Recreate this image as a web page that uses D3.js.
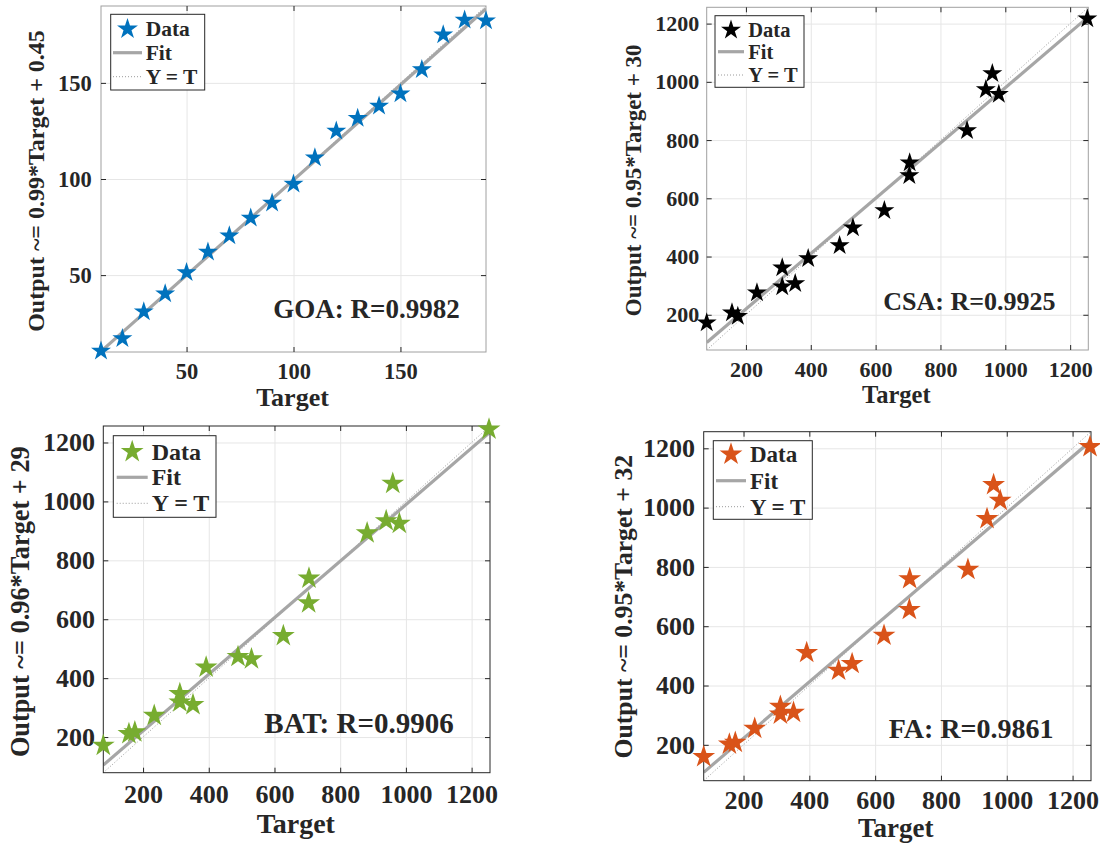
<!DOCTYPE html>
<html>
<head>
<meta charset="utf-8">
<script src="https://cdn.jsdelivr.net/npm/d3@7"></script>
<style>
  html, body { margin: 0; padding: 0; background: #fff; }
  svg { display: block; }
  text { font-family: "Liberation Serif", "Times New Roman", serif; font-weight: bold; fill: #262626; }
</style>
</head>
<body>
<svg id="chart" width="1100" height="844"></svg>
<script>
// ---------------- data ----------------
const goaTarget = [10, 20, 30, 40, 50, 60, 70, 80, 90, 100, 110, 120, 130, 140, 150, 160, 170, 180, 190];
const goaOutput = [10.5, 17, 31, 40.3, 51.4, 62, 70.5, 79.7, 87.5, 97.4, 111, 125, 131.6, 138, 144.3, 157, 175, 182.7, 182.3];

const target    = [79, 157, 175, 234, 312, 312, 352, 392, 489, 530, 627, 704, 705, 882, 940, 960, 980, 1253];
const csaOutput = [172.5, 207, 195, 275.6, 361.5, 296, 307.6, 393.5, 438, 499, 558, 678.7, 722, 833, 974, 1029, 957, 1217];
const batOutput = [171.5, 211, 217, 273, 346.8, 318.6, 309.5, 437, 473, 465, 544, 655, 739, 892.5, 934, 1061, 925, 1245];
const faOutput  = [159.6, 202, 208, 255, 329, 303, 309, 510.8, 451, 473.8, 569, 656, 759.7, 791, 962.5, 1077, 1024, 1205];

const goaTicks = [50, 100, 150];
const bigTicks = [200, 400, 600, 800, 1000, 1200];
const goaLim = [10, 190];
const bigLim = [79, 1256];

const fitSlope = [0.99, 0.95, 0.96, 0.95];
const fitIntercept = [0.45, 30, 29, 32];
const yLabels = ["Output ~= 0.99*Target + 0.45", "Output ~= 0.95*Target + 30", "Output ~= 0.96*Target + 29", "Output ~= 0.95*Target + 32"];
const rLabels = ["GOA: R=0.9982", "CSA: R=0.9925", "BAT: R=0.9906", "FA: R=0.9861"];
const legendLabels = ["Data", "Fit", "Y = T"];
const colors = ["#0072BD", "#000000", "#77AC30", "#D95319"];

// ---------------- layout ----------------
const panels = [
  { t: goaTarget, o: goaOutput, lim: goaLim, ticks: goaTicks,
    plot: {l: 101, t: 6, r: 486, b: 352}, box: "#a0a0a0", starR: 10.5,
    tickFont: 22.5, xTickBase: 27, yTickGap: 9.3,
    xlab: {x: 292.5, y: 405.7, size: 26}, ylab: {x: 44, y: 181, size: 24},
    ann: {x: 273.3, y: 318, size: 27},
    leg: {x0: 110.7, y0: 14.3, x1: 204.7, y1: 90, rows: [29, 52.7, 76.7], s0: 113, s1: 142, tx: 145.7, size: 21.5, starR: 11} },
  { t: target, o: csaOutput, lim: bigLim, ticks: bigTicks,
    plot: {l: 706.7, t: 7.3, r: 1088.3, b: 350}, box: "#a0a0a0", starR: 10.5,
    tickFont: 22, xTickBase: 26.7, yTickGap: 7.4,
    xlab: {x: 896.3, y: 402.7, size: 24.5}, ylab: {x: 641, y: 180.3, size: 23},
    ann: {x: 883.3, y: 310, size: 26},
    leg: {x0: 715, y0: 15.7, x1: 804, y1: 87.3, rows: [30, 51.7, 75], s0: 718, s1: 744, tx: 748.3, size: 20.5, starR: 10.5} },
  { t: target, o: batOutput, lim: bigLim, ticks: bigTicks,
    plot: {l: 103.3, t: 426, r: 490, b: 772.7}, box: "#262626", starR: 12,
    tickFont: 26, xTickBase: 30.6, yTickGap: 8.3,
    xlab: {x: 295.8, y: 832.7, size: 28}, ylab: {x: 29, y: 601.7, size: 26.3},
    ann: {x: 264.3, y: 733.3, size: 29},
    leg: {x0: 113.3, y0: 435.7, x1: 216, y1: 517.3, rows: [451.7, 477.3, 503.3], s0: 116.7, s1: 147.7, tx: 151.7, size: 24, starR: 12} },
  { t: target, o: faOutput, lim: bigLim, ticks: bigTicks,
    plot: {l: 703.7, t: 431.7, r: 1091, b: 780.7}, box: "#262626", starR: 12,
    tickFont: 26, xTickBase: 28.6, yTickGap: 8.7,
    xlab: {x: 895.8, y: 837.3, size: 27}, ylab: {x: 632, y: 606.7, size: 25.7},
    ann: {x: 888.7, y: 738.3, size: 28},
    leg: {x0: 713.3, y0: 440.7, x1: 812.3, y1: 519.3, rows: [454.3, 480.7, 506.7], s0: 716, s1: 746, tx: 750, size: 23, starR: 12} }
];

const svg = d3.select("#chart");
const kaStar = 0.8908130915292852;
const starSize = r => r * r / kaStar;
const fmt = d3.format("d");

panels.forEach((p, i) => {
  const W = p.plot.r - p.plot.l, H = p.plot.b - p.plot.t;
  const x = d3.scaleLinear().domain(p.lim).range([0, W]);
  const y = d3.scaleLinear().domain(p.lim).range([H, 0]);
  const g = svg.append("g").attr("transform", `translate(${p.plot.l},${p.plot.t})`);

  const clipId = "clip" + i;
  g.append("clipPath").attr("id", clipId).append("rect").attr("width", W).attr("height", H);

  // grid
  const gx = g.append("g").attr("transform", `translate(0,${H})`)
    .call(d3.axisBottom(x).tickValues(p.ticks).tickSize(-H).tickFormat(""));
  const gy = g.append("g").call(d3.axisLeft(y).tickValues(p.ticks).tickSize(-W).tickFormat(""));
  [gx, gy].forEach(a => { a.select(".domain").remove(); a.selectAll("line").attr("stroke", "#e6e6e6").attr("stroke-width", 1); });

  // Y = T line
  const ln = d3.line().x(d => x(d[0])).y(d => y(d[1]));
  g.append("path").attr("clip-path", `url(#${clipId})`)
    .attr("d", ln([[p.lim[0], p.lim[0]], [p.lim[1], p.lim[1]]]))
    .attr("fill", "none").attr("stroke", "#9a9a9a").attr("stroke-width", 1).attr("stroke-dasharray", "1,2");
  // Fit line
  const a = fitSlope[i], b = fitIntercept[i];
  g.append("path").attr("clip-path", `url(#${clipId})`)
    .attr("d", ln([[p.lim[0], a * p.lim[0] + b], [p.lim[1], a * p.lim[1] + b]]))
    .attr("fill", "none").attr("stroke", "#a6a6a6").attr("stroke-width", 3.2);

  // box
  g.append("rect").attr("width", W).attr("height", H).attr("fill", "none").attr("stroke", p.box).attr("stroke-width", 1);

  // axes with inner ticks
  const ax = g.append("g").attr("transform", `translate(0,${H})`)
    .call(d3.axisBottom(x).tickValues(p.ticks).tickFormat(fmt).tickSizeInner(-5).tickSizeOuter(0).tickPadding(p.xTickBase - 0.71 * p.tickFont));
  const ay = g.append("g")
    .call(d3.axisLeft(y).tickValues(p.ticks).tickFormat(fmt).tickSizeInner(-5).tickSizeOuter(0).tickPadding(p.yTickGap));
  const at = g.append("g").call(d3.axisTop(x).tickValues(p.ticks).tickSizeInner(-5).tickSizeOuter(0).tickFormat(""));
  const ar = g.append("g").attr("transform", `translate(${W},0)`)
    .call(d3.axisRight(y).tickValues(p.ticks).tickSizeInner(-5).tickSizeOuter(0).tickFormat(""));
  [ax, ay, at, ar].forEach(s => {
    s.select(".domain").remove();
    s.selectAll("line").attr("stroke", "#262626");
    s.selectAll("text").attr("font-size", p.tickFont).attr("font-family", null).attr("fill", "#262626");
  });

  // data stars
  g.append("g").selectAll("path").data(p.t.map((t, k) => [t, p.o[k]])).join("path")
    .attr("transform", d => `translate(${x(d[0])},${y(d[1])})`)
    .attr("d", d3.symbol(d3.symbolStar, starSize(p.starR))())
    .attr("fill", colors[i]);

  // labels
  svg.append("text").attr("x", p.xlab.x).attr("y", p.xlab.y).attr("text-anchor", "middle")
    .attr("font-size", p.xlab.size).text("Target");
  svg.append("text").attr("transform", `translate(${p.ylab.x},${p.ylab.y}) rotate(-90)`).attr("text-anchor", "middle")
    .attr("font-size", p.ylab.size).text(yLabels[i]);
  svg.append("text").attr("x", p.ann.x).attr("y", p.ann.y).attr("font-size", p.ann.size).attr("fill", "#000").text(rLabels[i]);

  // legend
  const L = p.leg;
  const lg = svg.append("g");
  lg.append("rect").attr("x", L.x0).attr("y", L.y0).attr("width", L.x1 - L.x0).attr("height", L.y1 - L.y0)
    .attr("fill", "#fff").attr("stroke", "#262626").attr("stroke-width", 1);
  lg.append("path").attr("transform", `translate(${(L.s0 + L.s1) / 2},${L.rows[0]})`)
    .attr("d", d3.symbol(d3.symbolStar, starSize(L.starR))()).attr("fill", colors[i]);
  lg.append("line").attr("x1", L.s0).attr("x2", L.s1).attr("y1", L.rows[1]).attr("y2", L.rows[1])
    .attr("stroke", "#a6a6a6").attr("stroke-width", 3.2);
  lg.append("line").attr("x1", L.s0).attr("x2", L.s1).attr("y1", L.rows[2]).attr("y2", L.rows[2])
    .attr("stroke", "#9a9a9a").attr("stroke-width", 1).attr("stroke-dasharray", "1,2");
  legendLabels.forEach((lab, k) => {
    lg.append("text").attr("x", L.tx).attr("y", L.rows[k]).attr("dy", "0.34em")
      .attr("font-size", L.size).attr("fill", "#000").text(lab);
  });
});
</script>
</body>
</html>
